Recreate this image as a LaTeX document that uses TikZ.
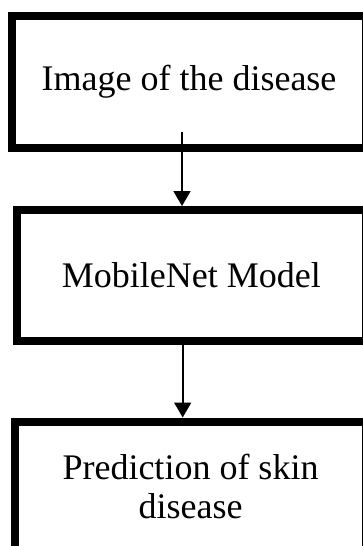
\documentclass[tikz,border=0pt]{standalone}
\usepackage{fontspec}
\setmainfont{Liberation Serif}
\usetikzlibrary{arrows.meta}
\begin{document}
\begin{tikzpicture}[x=1pt,y=-1pt,
  stagebox/.style={draw=black, line width=8pt, fill=white, inner sep=0pt,
    align=center, font=\fontsize{36}{39}\selectfont},
  flowarrow/.style={line width=1.6pt, -{Triangle[width=17pt,length=15pt]}}]
\useasboundingbox (0,0) rectangle (363,546);
\clip (0,0) rectangle (363,546);
\node[stagebox, minimum width=354pt, minimum height=132pt] (b1) at (189,81.5) {Image of the disease};
\node[stagebox, minimum width=349pt, minimum height=130.5pt] (b2) at (191.3,275.3) {MobileNet Model};
\node[stagebox, minimum width=351pt, minimum height=129pt] (b3) at (190.5,486) {Prediction of skin\\disease};
\coordinate (s1) at (182,132);
\draw[flowarrow] (s1) -- (s1 |- b2.north);
\coordinate (s2) at (182.7,340);
\draw[flowarrow] (s2 |- b2.south) -- (s2 |- b3.north);
\end{tikzpicture}
\end{document}
